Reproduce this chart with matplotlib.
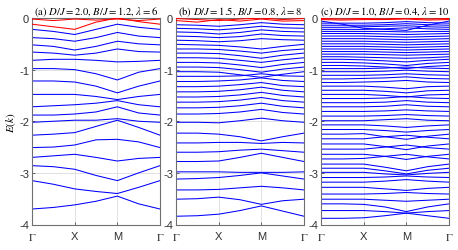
import matplotlib
matplotlib.use('Agg')
import matplotlib.pyplot as plt

plt.rcParams['mathtext.fontset'] = 'stix'
plt.rcParams['font.family'] = ['Liberation Sans', 'DejaVu Sans']

# k-path sample points (Gamma, mid, X, mid, M, mid, Gamma)
k = [0, 0.5, 1, 1.5, 2, 2.5, 3]
k_ticks = [0, 1, 2, 3]
k_labels = [r'$\Gamma$', 'X', 'M', r'$\Gamma$']
y_ticks = [0, -1, -2, -3, -4]
y_labels = ['0', '-1', '-2', '-3', '-4']

titles = [r'(a) $D/J=2.0$, $B/J=1.2$, $\lambda=6$',
          r'(b) $D/J=1.5$, $B/J=0.8$, $\lambda=8$',
          r'(c) $D/J=1.0$, $B/J=0.4$, $\lambda=10$']

# ---------------- panel (a) ----------------
a_red = [
    [-0.02, -0.05, -0.02, -0.04, -0.02, -0.05, -0.02],
    [-0.12, -0.17, -0.22, -0.08, 0.00, -0.07, -0.12],
]
a_blue = [
    [-0.22, -0.26, -0.32, -0.22, -0.12, -0.18, -0.22],
    [-0.38, -0.40, -0.45, -0.38, -0.28, -0.35, -0.38],
    [-0.52, -0.55, -0.62, -0.55, -0.45, -0.50, -0.52],
    [-0.66, -0.68, -0.72, -0.68, -0.60, -0.65, -0.66],
    [-0.82, -0.80, -0.80, -0.82, -0.85, -0.84, -0.82],
    [-0.98, -0.98, -1.00, -1.08, -1.20, -1.05, -0.98],
    [-1.22, -1.22, -1.24, -1.32, -1.45, -1.32, -1.22],
    [-1.48, -1.48, -1.48, -1.52, -1.58, -1.52, -1.48],
    [-1.72, -1.70, -1.68, -1.65, -1.60, -1.68, -1.72],
    [-1.88, -1.88, -1.86, -1.82, -1.72, -1.84, -1.88],
    [-2.02, -2.00, -1.98, -1.98, -1.95, -2.00, -2.02],
    [-2.27, -2.25, -2.22, -2.10, -1.98, -2.12, -2.27],
    [-2.51, -2.50, -2.46, -2.36, -2.35, -2.40, -2.51],
    [-2.70, -2.67, -2.64, -2.70, -2.77, -2.72, -2.70],
    [-2.86, -2.88, -2.93, -3.05, -3.15, -3.00, -2.86],
    [-3.15, -3.22, -3.31, -3.36, -3.40, -3.28, -3.15],
    [-3.70, -3.67, -3.62, -3.55, -3.45, -3.60, -3.70],
]

# ---------------- panel (b) ----------------
b_red = [
    [-0.01, -0.03, -0.05, -0.02, 0.00, -0.03, -0.01],
    [-0.05, -0.08, -0.03, -0.06, -0.02, -0.06, -0.05],
]
b_blue = [
    [-0.13, -0.14, -0.16, -0.13, -0.09, -0.12, -0.13],
    [-0.20, -0.21, -0.23, -0.20, -0.16, -0.19, -0.20],
    [-0.27, -0.28, -0.31, -0.28, -0.23, -0.26, -0.27],
    [-0.35, -0.36, -0.38, -0.36, -0.31, -0.34, -0.35],
    [-0.43, -0.44, -0.46, -0.44, -0.40, -0.42, -0.43],
    [-0.51, -0.52, -0.53, -0.56, -0.60, -0.55, -0.51],
    [-0.60, -0.60, -0.61, -0.64, -0.68, -0.63, -0.60],
    [-0.68, -0.68, -0.69, -0.73, -0.78, -0.72, -0.68],
    [-0.77, -0.77, -0.78, -0.82, -0.86, -0.81, -0.77],
    [-0.86, -0.86, -0.87, -0.91, -0.96, -0.90, -0.86],
    [-0.95, -0.95, -0.96, -1.00, -1.05, -0.99, -0.95],
    [-1.04, -1.04, -1.05, -1.10, -1.15, -1.09, -1.04],
    [-1.13, -1.13, -1.13, -1.12, -1.08, -1.12, -1.13],
    [-1.23, -1.23, -1.22, -1.20, -1.16, -1.21, -1.23],
    [-1.33, -1.33, -1.32, -1.29, -1.25, -1.31, -1.33],
    [-1.43, -1.43, -1.42, -1.39, -1.34, -1.40, -1.43],
    [-1.53, -1.53, -1.52, -1.49, -1.44, -1.50, -1.53],
    [-1.63, -1.63, -1.62, -1.59, -1.54, -1.60, -1.63],
    [-1.74, -1.74, -1.73, -1.70, -1.65, -1.71, -1.74],
    [-1.86, -1.86, -1.85, -1.82, -1.77, -1.83, -1.86],
    [-2.02, -2.02, -2.03, -1.99, -1.94, -1.99, -2.02],
    [-2.23, -2.23, -2.25, -2.30, -2.38, -2.30, -2.23],
    [-2.42, -2.42, -2.41, -2.41, -2.43, -2.41, -2.42],
    [-2.60, -2.60, -2.59, -2.56, -2.54, -2.57, -2.60],
    [-2.78, -2.78, -2.77, -2.70, -2.62, -2.70, -2.78],
    [-2.98, -2.98, -2.98, -2.99, -2.99, -2.99, -2.98],
    [-3.12, -3.11, -3.09, -3.05, -3.00, -3.06, -3.12],
    [-3.33, -3.33, -3.32, -3.29, -3.26, -3.29, -3.33],
    [-3.51, -3.50, -3.47, -3.52, -3.61, -3.54, -3.51],
    [-3.84, -3.83, -3.80, -3.73, -3.64, -3.74, -3.84],
]

# ---------------- panel (c) ----------------
c_red = [
    [-0.01, -0.02, -0.01, -0.02, 0.00, -0.02, -0.01],
    [-0.03, -0.04, -0.03, -0.03, -0.02, -0.04, -0.03],
]
c_blue = [
    [-0.06, -0.12, -0.20, -0.22, -0.24, -0.14, -0.06],
    [-0.10, -0.10, -0.10, -0.09, -0.07, -0.09, -0.10],
    [-0.14, -0.14, -0.14, -0.13, -0.11, -0.13, -0.14],
    [-0.18, -0.18, -0.17, -0.16, -0.15, -0.17, -0.18],
    [-0.22, -0.22, -0.22, -0.21, -0.19, -0.21, -0.22],
    [-0.26, -0.26, -0.26, -0.26, -0.27, -0.26, -0.26],
    [-0.30, -0.30, -0.30, -0.31, -0.32, -0.31, -0.30],
    [-0.35, -0.35, -0.35, -0.36, -0.37, -0.36, -0.35],
    [-0.40, -0.40, -0.40, -0.41, -0.42, -0.41, -0.40],
    [-0.45, -0.45, -0.45, -0.46, -0.47, -0.46, -0.45],
    [-0.50, -0.50, -0.50, -0.51, -0.52, -0.51, -0.50],
    [-0.55, -0.55, -0.55, -0.56, -0.57, -0.56, -0.55],
    [-0.60, -0.60, -0.60, -0.61, -0.62, -0.61, -0.60],
    [-0.65, -0.65, -0.65, -0.66, -0.67, -0.66, -0.65],
    [-0.70, -0.70, -0.70, -0.71, -0.72, -0.71, -0.70],
    [-0.75, -0.75, -0.76, -0.77, -0.78, -0.77, -0.75],
    [-0.80, -0.80, -0.81, -0.83, -0.85, -0.82, -0.80],
    [-0.86, -0.86, -0.87, -0.89, -0.92, -0.88, -0.86],
    [-0.92, -0.92, -0.93, -0.95, -0.98, -0.94, -0.92],
    [-0.98, -0.98, -0.98, -0.97, -0.95, -0.97, -0.98],
    [-1.04, -1.04, -1.04, -1.03, -1.01, -1.03, -1.04],
    [-1.11, -1.11, -1.11, -1.10, -1.08, -1.10, -1.11],
    [-1.18, -1.18, -1.17, -1.16, -1.14, -1.17, -1.18],
    [-1.25, -1.25, -1.24, -1.23, -1.21, -1.24, -1.25],
    [-1.32, -1.32, -1.32, -1.34, -1.37, -1.33, -1.32],
    [-1.40, -1.40, -1.40, -1.42, -1.45, -1.41, -1.40],
    [-1.48, -1.48, -1.48, -1.50, -1.53, -1.49, -1.48],
    [-1.56, -1.56, -1.56, -1.55, -1.52, -1.55, -1.56],
    [-1.64, -1.64, -1.64, -1.63, -1.60, -1.63, -1.64],
    [-1.72, -1.72, -1.72, -1.71, -1.68, -1.71, -1.72],
    [-1.81, -1.81, -1.81, -1.80, -1.78, -1.80, -1.81],
    [-1.90, -1.90, -1.90, -1.89, -1.87, -1.89, -1.90],
    [-1.99, -1.99, -1.99, -1.97, -1.95, -1.98, -1.99],
    [-2.07, -2.07, -2.07, -2.09, -2.12, -2.09, -2.07],
    [-2.16, -2.16, -2.16, -2.18, -2.21, -2.18, -2.16],
    [-2.25, -2.25, -2.24, -2.30, -2.35, -2.29, -2.25],
    [-2.34, -2.34, -2.34, -2.30, -2.27, -2.31, -2.34],
    [-2.44, -2.44, -2.44, -2.49, -2.55, -2.48, -2.44],
    [-2.54, -2.54, -2.54, -2.50, -2.46, -2.51, -2.54],
    [-2.64, -2.64, -2.64, -2.68, -2.74, -2.68, -2.64],
    [-2.73, -2.73, -2.72, -2.68, -2.64, -2.69, -2.73],
    [-2.83, -2.83, -2.83, -2.89, -2.96, -2.88, -2.83],
    [-2.91, -2.91, -2.91, -2.96, -3.02, -2.95, -2.91],
    [-2.99, -2.99, -2.99, -3.02, -3.04, -3.01, -2.99],
    [-3.09, -3.09, -3.09, -3.08, -3.06, -3.08, -3.09],
    [-3.18, -3.18, -3.18, -3.16, -3.13, -3.16, -3.18],
    [-3.28, -3.28, -3.28, -3.31, -3.34, -3.30, -3.28],
    [-3.41, -3.41, -3.41, -3.40, -3.38, -3.40, -3.41],
    [-3.51, -3.51, -3.51, -3.53, -3.55, -3.53, -3.51],
    [-3.60, -3.60, -3.61, -3.66, -3.75, -3.66, -3.60],
    [-3.73, -3.73, -3.73, -3.75, -3.78, -3.75, -3.73],
    [-3.88, -3.88, -3.87, -3.83, -3.78, -3.83, -3.88],
]

panels = [(a_red, a_blue), (b_red, b_blue), (c_red, c_blue)]

W, H = 458, 251
fig = plt.figure(figsize=(W / 100, H / 100), dpi=100)
lefts = [32, 176, 321]
ax_w = 128
ax_top, ax_bot = 19, 225.5

for i, (reds, blues) in enumerate(panels):
    ax = fig.add_axes([lefts[i] / W, 1 - ax_bot / H, ax_w / W, (ax_bot - ax_top) / H])
    ax.set_xlim(0, 3)
    ax.set_ylim(-4, 0)
    for xg in [1, 2]:
        ax.axvline(xg, color='#dcdcdc', lw=0.6, zorder=0)
    for yg in [-1, -2, -3]:
        ax.axhline(yg, color='#dcdcdc', lw=0.6, zorder=0)
    for band in blues:
        ax.plot(k, band, color='#0000ff', lw=0.75, zorder=2)
    for band in reds:
        ax.plot(k, band, color='#ff0000', lw=0.75, zorder=3)
    ax.set_xticks(k_ticks)
    ax.set_xticklabels(k_labels)
    ax.set_yticks(y_ticks)
    ax.set_yticklabels(y_labels)
    ax.tick_params(direction='in', length=2, width=0.5, labelsize=8,
                   colors='#303030', top=False, right=False)
    ax.tick_params(axis='x', pad=5)
    ax.tick_params(axis='y', pad=2)
    for s in ax.spines.values():
        s.set_color('#707070')
        s.set_linewidth(0.8)
    ax.set_title(titles[i], fontsize=7.7, pad=1.5, family='STIXGeneral')
    if i == 0:
        ax.set_ylabel(r'$E(k)$', fontsize=8, labelpad=1)

fig.savefig('out.png', dpi=100)
